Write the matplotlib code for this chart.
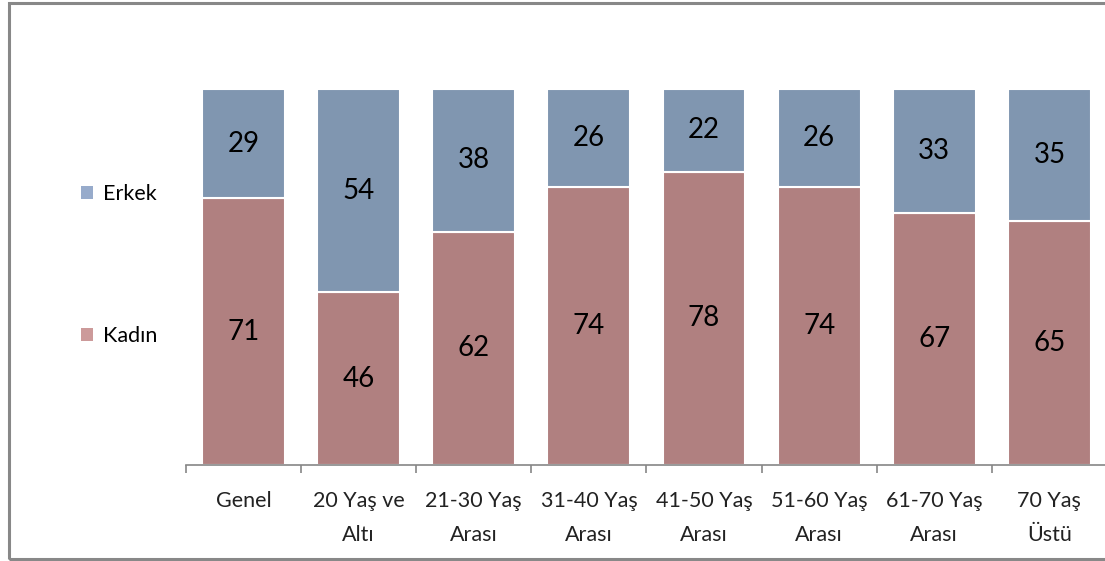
import numpy as np
import matplotlib
matplotlib.use('Agg')
import matplotlib.pyplot as plt
from matplotlib.patches import Patch, Rectangle

plt.rcParams['font.family'] = ['Lato', 'DejaVu Sans']

# Age groups and percentage split by gender
groups = ['Genel', '20 Yaş ve\nAltı', '21-30 Yaş\nArası', '31-40 Yaş\nArası',
          '41-50 Yaş\nArası', '51-60 Yaş\nArası', '61-70 Yaş\nArası', '70 Yaş\nÜstü']
kadin = [71, 46, 62, 74, 78, 74, 67, 65]
erkek = [29, 54, 38, 26, 22, 26, 33, 35]

kadin_color = '#B08080'
erkek_color = '#8096B0'

fig = plt.figure(figsize=(11.05, 5.61), dpi=100)
fig.set_facecolor('white')
ax = fig.add_axes([0.1683, 0.1711, 0.8335, 0.6702])

x = np.arange(len(groups))
ax.bar(x, kadin, width=0.72, color=kadin_color, edgecolor='white', linewidth=1.5)
ax.bar(x, erkek, width=0.72, bottom=kadin, color=erkek_color, edgecolor='white', linewidth=1.5)

# Value labels centred in each segment
for i in range(len(groups)):
    ax.text(x[i], kadin[i] / 2, str(kadin[i]), ha='center', va='center', fontsize=20, color='black')
    ax.text(x[i], kadin[i] + erkek[i] / 2, str(erkek[i]), ha='center', va='center', fontsize=20, color='black')

ax.set_xlim(-0.5, len(groups) - 0.5)
ax.set_ylim(0, 100)

for side in ['left', 'right', 'top']:
    ax.spines[side].set_visible(False)
ax.spines['bottom'].set_color('#868686')
ax.spines['bottom'].set_linewidth(1.2)
ax.set_yticks([])

ax.set_xticks(x)
ax.set_xticklabels(groups, fontsize=15.5, color='#222222', linespacing=1.9)
ax.tick_params(axis='x', which='major', length=0, pad=18.5)
ax.set_xticks(np.arange(-0.5, len(groups)), minor=True)
ax.tick_params(axis='x', which='minor', length=6, width=1.2, color='#868686', direction='out')

# Legend on the left, Erkek above Kadın
handles = [Patch(facecolor='#97ABCB', edgecolor='none'),
           Patch(facecolor='#CC9A9A', edgecolor='none')]
fig.legend(handles, ['Erkek', 'Kadın'], loc='upper left', bbox_to_anchor=(0.056, 0.707),
           frameon=False, fontsize=15.5, labelspacing=5.7, handlelength=0.55, handleheight=0.55,
           handletextpad=0.45)

# Outer frame
fig.patches.append(Rectangle((0.0085, 0.004), 1.1, 0.9905, transform=fig.transFigure,
                             fill=False, edgecolor='#888888', linewidth=2.2))

fig.savefig('out.png', dpi=100)
